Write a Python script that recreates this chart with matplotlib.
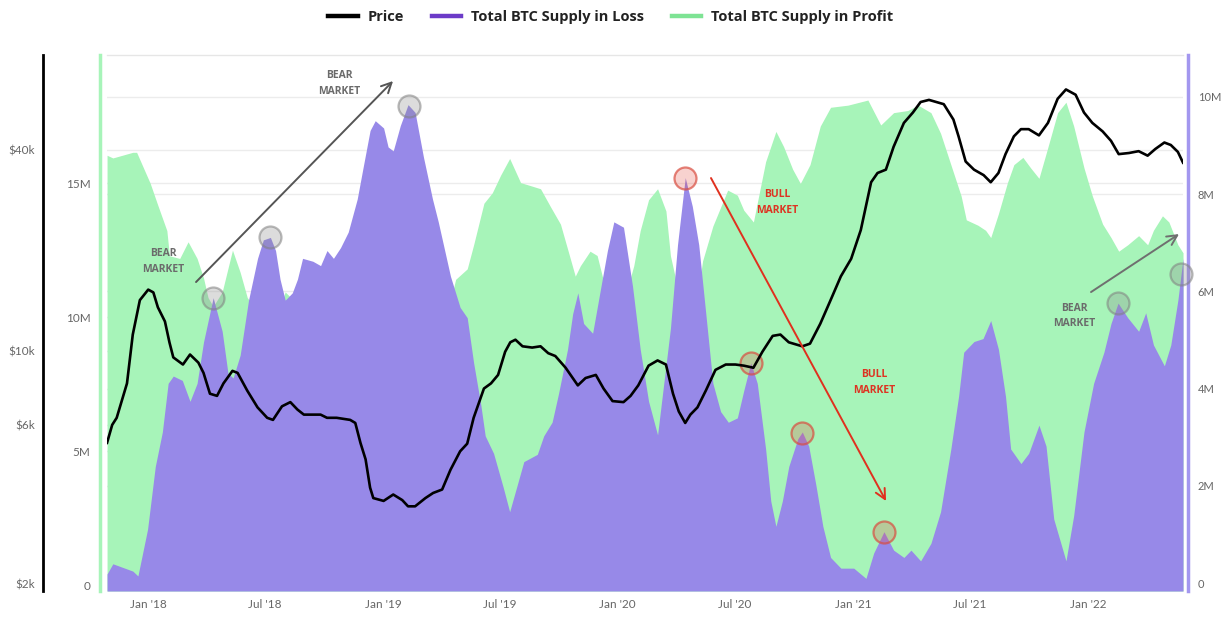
import numpy as np
import pandas as pd
import matplotlib
matplotlib.use("Agg")
import matplotlib.pyplot as plt
import matplotlib.dates as mdates
from matplotlib.lines import Line2D
from matplotlib.ticker import FixedLocator, FixedFormatter, NullLocator
from matplotlib.transforms import blended_transform_factory

# tick labels in Lato, legend and notes in Open Sans
plt.rcParams["font.family"] = ["Lato", "DejaVu Sans"]
BOLD_FONT = ["Open Sans", "DejaVu Sans"]

# --------------------------------------------------------------------------- #
# Data (BTC supply in millions of coins, price in k USD)
# --------------------------------------------------------------------------- #
loss_dates = [
    "2017-10-29", "2017-11-07", "2017-12-08", "2017-12-16", "2017-12-31", "2018-01-12", "2018-01-23", "2018-02-01",
    "2018-02-09", "2018-02-23", "2018-03-07", "2018-03-18", "2018-03-28", "2018-04-12", "2018-04-26", "2018-05-05",
    "2018-05-13", "2018-05-24", "2018-06-06", "2018-06-20", "2018-06-29", "2018-07-10", "2018-07-18", "2018-07-25",
    "2018-08-02", "2018-08-13", "2018-08-21", "2018-08-29", "2018-09-14", "2018-09-26", "2018-10-06", "2018-10-16",
    "2018-10-27", "2018-11-08", "2018-11-22", "2018-12-01", "2018-12-12", "2018-12-20", "2019-01-02", "2019-01-09",
    "2019-01-17", "2019-01-28", "2019-02-09", "2019-02-20", "2019-03-05", "2019-03-19", "2019-03-28", "2019-04-16",
    "2019-05-01", "2019-05-12", "2019-05-22", "2019-06-02", "2019-06-09", "2019-06-22", "2019-07-07", "2019-07-17",
    "2019-07-29", "2019-08-08", "2019-08-29", "2019-09-08", "2019-09-21", "2019-10-01", "2019-10-15", "2019-10-23",
    "2019-10-31", "2019-11-09", "2019-11-23", "2019-12-05", "2019-12-16", "2019-12-26", "2020-01-10", "2020-01-24",
    "2020-02-05", "2020-02-18", "2020-03-03", "2020-03-23", "2020-04-03", "2020-04-15", "2020-04-26", "2020-05-06",
    "2020-05-17", "2020-05-28", "2020-06-09", "2020-06-21", "2020-07-05", "2020-07-15", "2020-07-26", "2020-08-05",
    "2020-08-18", "2020-08-26", "2020-09-03", "2020-09-13", "2020-09-23", "2020-10-07", "2020-10-14", "2020-10-24",
    "2020-11-04", "2020-11-15", "2020-11-27", "2020-12-13", "2021-01-02", "2021-01-21", "2021-02-02", "2021-02-18",
    "2021-03-05", "2021-03-21", "2021-04-01", "2021-04-16", "2021-05-02", "2021-05-17", "2021-06-02", "2021-06-14",
    "2021-06-22", "2021-07-08", "2021-07-22", "2021-08-03", "2021-08-15", "2021-08-26", "2021-09-03", "2021-09-19",
    "2021-10-01", "2021-10-17", "2021-10-28", "2021-11-09", "2021-11-28", "2021-12-10", "2021-12-26", "2022-01-10",
    "2022-01-26", "2022-02-06", "2022-02-17", "2022-03-04", "2022-03-21", "2022-04-01", "2022-04-13", "2022-04-30",
    "2022-05-10", "2022-05-21", "2022-05-29",
]
loss_mbtc = [
    0.19, 0.40, 0.25, 0.15, 1.11, 2.40, 3.11, 4.11,
    4.26, 4.17, 3.74, 4.11, 4.96, 5.87, 5.18, 4.32,
    4.22, 4.69, 5.82, 6.68, 7.06, 7.11, 6.84, 6.25,
    5.82, 5.97, 6.25, 6.68, 6.62, 6.53, 6.84, 6.68,
    6.90, 7.22, 7.90, 8.54, 9.31, 9.51, 9.36, 8.97,
    8.89, 9.41, 9.84, 9.68, 8.76, 7.90, 7.43, 6.31,
    5.67, 5.46, 4.53, 3.68, 3.03, 2.67, 1.97, 1.47,
    2.03, 2.50, 2.65, 3.03, 3.31, 3.90, 4.81, 5.54,
    5.97, 5.34, 5.14, 6.03, 6.84, 7.43, 7.32, 6.11,
    4.81, 3.74, 3.05, 5.24, 6.96, 8.34, 7.75, 6.96,
    5.54, 4.11, 3.53, 3.31, 3.40, 3.96, 4.53, 4.11,
    2.76, 1.69, 1.17, 1.69, 2.40, 2.97, 3.11, 2.82,
    2.03, 1.17, 0.53, 0.31, 0.31, 0.10, 0.62, 1.06,
    0.68, 0.53, 0.68, 0.46, 0.82, 1.47, 2.76, 3.84,
    4.75, 4.97, 5.03, 5.40, 4.81, 3.84, 2.76, 2.46,
    2.67, 3.25, 2.82, 1.32, 0.46, 1.39, 3.11, 4.11,
    4.75, 5.34, 5.76, 5.46, 5.18, 5.56, 4.90, 4.47,
    4.90, 5.82, 6.68,
]

profit_dates = [
    "2017-10-29", "2017-11-07", "2017-12-08", "2017-12-14", "2018-01-04", "2018-01-16", "2018-01-30", "2018-02-03",
    "2018-02-19", "2018-03-04", "2018-03-18", "2018-03-28", "2018-04-04", "2018-04-12", "2018-04-26", "2018-05-12",
    "2018-05-24", "2018-06-04", "2018-06-20", "2018-07-10", "2018-07-25", "2018-08-02", "2018-08-15", "2018-08-26",
    "2018-10-11", "2018-12-12", "2019-02-13", "2019-04-01", "2019-04-16", "2019-04-24", "2019-05-12", "2019-05-22",
    "2019-06-07", "2019-06-20", "2019-07-03", "2019-07-17", "2019-08-03", "2019-08-18", "2019-09-03", "2019-09-18",
    "2019-10-04", "2019-10-16", "2019-10-27", "2019-11-04", "2019-11-19", "2019-11-30", "2019-12-08", "2019-12-26",
    "2020-01-13", "2020-01-26", "2020-02-05", "2020-02-18", "2020-03-03", "2020-03-16", "2020-03-23", "2020-04-03",
    "2020-04-15", "2020-04-26", "2020-05-06", "2020-05-12", "2020-05-28", "2020-06-20", "2020-07-05", "2020-07-15",
    "2020-07-30", "2020-08-18", "2020-09-03", "2020-09-15", "2020-09-29", "2020-10-11", "2020-10-26", "2020-11-11",
    "2020-11-27", "2020-12-24", "2021-01-24", "2021-02-13", "2021-03-05", "2021-03-27", "2021-04-12", "2021-05-02",
    "2021-05-17", "2021-06-02", "2021-06-18", "2021-06-26", "2021-07-14", "2021-07-26", "2021-08-03", "2021-08-15",
    "2021-08-29", "2021-09-08", "2021-09-22", "2021-10-04", "2021-10-17", "2021-10-31", "2021-11-15", "2021-11-28",
    "2021-12-10", "2021-12-26", "2022-01-08", "2022-01-24", "2022-02-06", "2022-02-18", "2022-03-04", "2022-03-21",
    "2022-04-04", "2022-04-13", "2022-04-27", "2022-05-07", "2022-05-21", "2022-05-29",
]
profit_mbtc = [
    16.04, 15.94, 16.15, 16.15, 15.00, 14.17, 13.23, 12.29,
    12.19, 12.81, 12.19, 11.46, 10.73, 10.40, 10.94, 12.50,
    11.67, 10.73, 10.20, 10.00, 10.40, 10.94, 10.63, 10.30,
    9.80, 8.50, 7.60, 9.00, 10.60, 11.41, 11.80, 12.70,
    14.25, 14.64, 15.30, 15.92, 15.02, 14.91, 14.79, 14.14,
    13.47, 12.46, 11.53, 11.92, 12.46, 12.30, 11.53, 10.60,
    10.80, 11.92, 13.23, 14.38, 14.79, 13.96, 12.29, 11.10,
    10.40, 10.40, 11.10, 12.10, 13.40, 14.74, 14.55, 13.99,
    13.55, 15.80, 16.93, 16.36, 15.52, 14.99, 15.69, 17.13,
    17.83, 17.91, 18.10, 17.17, 17.63, 17.71, 17.91, 17.63,
    16.86, 15.69, 14.52, 13.63, 13.43, 13.24, 12.97, 13.86,
    15.02, 15.69, 15.96, 15.57, 15.18, 16.35, 17.63, 18.02,
    17.13, 15.57, 14.52, 13.47, 12.97, 12.46, 12.70, 13.04,
    12.70, 13.24, 13.78, 13.55, 12.70, 12.40,
]

price_dates = [
    "2017-10-29", "2017-11-06", "2017-11-13", "2017-11-29", "2017-12-08", "2017-12-19", "2018-01-01", "2018-01-09",
    "2018-01-16", "2018-01-27", "2018-02-03", "2018-02-09", "2018-02-24", "2018-03-07", "2018-03-20", "2018-03-28",
    "2018-04-07", "2018-04-18", "2018-04-28", "2018-05-12", "2018-05-20", "2018-06-04", "2018-06-20", "2018-07-05",
    "2018-07-14", "2018-07-28", "2018-08-10", "2018-08-21", "2018-08-31", "2018-09-26", "2018-10-06", "2018-10-21",
    "2018-11-11", "2018-11-19", "2018-11-27", "2018-12-05", "2018-12-12", "2018-12-17", "2019-01-02", "2019-01-17",
    "2019-01-31", "2019-02-09", "2019-02-20", "2019-03-08", "2019-03-20", "2019-04-03", "2019-04-16", "2019-05-01",
    "2019-05-12", "2019-05-22", "2019-06-07", "2019-06-18", "2019-06-29", "2019-07-10", "2019-07-18", "2019-07-26",
    "2019-08-06", "2019-08-21", "2019-09-03", "2019-09-15", "2019-09-26", "2019-10-12", "2019-10-31", "2019-11-12",
    "2019-11-28", "2019-12-10", "2019-12-24", "2020-01-10", "2020-01-21", "2020-02-02", "2020-02-18", "2020-03-03",
    "2020-03-16", "2020-03-27", "2020-04-05", "2020-04-15", "2020-04-23", "2020-05-04", "2020-05-17", "2020-06-01",
    "2020-06-17", "2020-07-02", "2020-07-15", "2020-07-30", "2020-08-13", "2020-08-29", "2020-09-10", "2020-09-23",
    "2020-10-14", "2020-10-26", "2020-11-11", "2020-11-27", "2020-12-13", "2020-12-29", "2021-01-13", "2021-01-29",
    "2021-02-08", "2021-02-21", "2021-03-05", "2021-03-21", "2021-04-04", "2021-04-16", "2021-04-29", "2021-05-22",
    "2021-06-06", "2021-06-14", "2021-06-25", "2021-07-08", "2021-07-23", "2021-08-03", "2021-08-15", "2021-08-26",
    "2021-09-08", "2021-09-19", "2021-10-01", "2021-10-17", "2021-10-31", "2021-11-15", "2021-11-28", "2021-12-13",
    "2021-12-26", "2022-01-08", "2022-01-24", "2022-02-06", "2022-02-18", "2022-03-06", "2022-03-21", "2022-04-04",
    "2022-04-16", "2022-04-30", "2022-05-10", "2022-05-21", "2022-05-29",
]
price_kusd = [
    5.30, 6.00, 6.30, 7.99, 11.19, 14.19, 15.26, 14.97,
    13.51, 12.25, 10.61, 9.56, 9.10, 9.75, 9.22, 8.59,
    7.44, 7.33, 7.99, 8.71, 8.59, 7.60, 6.77, 6.30,
    6.21, 6.82, 7.02, 6.67, 6.44, 6.44, 6.30, 6.30,
    6.21, 6.08, 5.30, 4.73, 3.89, 3.62, 3.55, 3.71,
    3.57, 3.42, 3.42, 3.62, 3.75, 3.84, 4.40, 5.00,
    5.27, 6.30, 7.71, 7.99, 8.47, 9.94, 10.61, 10.80,
    10.32, 10.23, 10.32, 9.84, 9.65, 8.90, 7.88, 8.29,
    8.47, 7.71, 7.07, 7.02, 7.33, 7.88, 9.03, 9.36,
    9.10, 7.44, 6.58, 6.08, 6.44, 6.77, 7.60, 8.77,
    9.10, 9.10, 9.03, 8.90, 9.94, 11.09, 11.19, 10.61,
    10.32, 10.51, 12.06, 14.19, 16.73, 18.88, 23.03, 32.02,
    34.13, 34.93, 40.90, 48.23, 51.81, 55.71, 56.53, 54.88,
    49.35, 43.95, 36.95, 34.93, 33.63, 32.02, 34.13, 38.88,
    43.95, 46.19, 46.19, 44.25, 48.23, 56.94, 60.75, 58.58,
    51.81, 48.23, 45.48, 42.62, 38.88, 39.18, 39.68, 38.47,
    40.29, 42.12, 41.41, 39.48, 36.65,
]

# peaks of supply-in-loss that the annotator circled
gray_circle_dates = ["2018-04-12", "2018-07-10", "2019-02-11", "2022-02-17", "2022-05-26"]
red_circle_dates = ["2020-04-15", "2020-07-26", "2020-10-13", "2021-02-18"]

price_ticks = [2, 6, 10, 40]
profit_ticks = [0, 5, 10, 15]
loss_ticks = [0, 2, 4, 6, 8, 10]

# --------------------------------------------------------------------------- #
GREEN_FILL = "#a7f4b9"
PURPLE_FILL = "#9789e8"
GREEN_LEG = "#7ee394"
PURPLE_LEG = "#6c3bc8"
PURPLE_SPINE = "#a397ef"
GRID = "#ececec"
TICK = "#666666"
BEAR = "#6b6b6b"
BULL = "#dd3322"


def main():
    ld = pd.to_datetime(loss_dates)
    pd_ = pd.to_datetime(profit_dates)
    prd = pd.to_datetime(price_dates)

    fig = plt.figure(figsize=(12.22, 6.17), dpi=100)
    ax_p = fig.add_axes([0.0876, 0.0421, 0.8805, 0.8687])   # profit (left, green)
    ax_l = ax_p.twinx()                                       # loss (right, purple)
    ax_c = ax_p.twinx()                                       # price (far left, log)

    ax_p.set_xlim(ld[0], ld[-1])
    ax_p.set_ylim(-0.22, 19.78)
    ax_l.set_ylim(-0.16, 10.86)
    ax_c.set_yscale("log")
    ax_c.set_ylim(1.906, 77.04)

    # faint horizontal grid, behind the fills
    for v in profit_ticks[1:]:
        ax_p.axhline(v, color=GRID, lw=1, zorder=0)
    tr_l = blended_transform_factory(ax_p.transAxes, ax_l.transData)
    for v in loss_ticks[1:]:
        ax_p.plot([0, 1], [v, v], transform=tr_l, color=GRID, lw=1, zorder=0)
    tr_c = blended_transform_factory(ax_p.transAxes, ax_c.transData)
    for v in price_ticks[1:]:
        ax_p.plot([0, 1], [v, v], transform=tr_c, color=GRID, lw=1, zorder=0)

    # series
    ax_p.fill_between(pd_, profit_mbtc, -0.22, color=GREEN_FILL, lw=0, zorder=2)
    ax_l.fill_between(ld, loss_mbtc, -0.16, color=PURPLE_FILL, lw=0, zorder=2)
    ax_c.plot(prd, price_kusd, color="black", lw=1.9, solid_joinstyle="round", zorder=3)

    # circled peaks on the loss series
    lx = mdates.date2num(ld)
    for dates, face, edge in [(gray_circle_dates, (0.55, 0.55, 0.55, 0.3), (0.5, 0.5, 0.5, 0.55)),
                              (red_circle_dates, (0.9, 0.3, 0.25, 0.25), (0.85, 0.3, 0.25, 0.7))]:
        cx = pd.to_datetime(dates)
        cy = np.interp(mdates.date2num(cx), lx, loss_mbtc)
        ax_l.scatter(cx, cy, s=250, facecolor=face, edgecolor=edge, lw=1.6, zorder=5, clip_on=False)

    # spines (offsets in points: 1 px = 0.72 pt at 100 dpi)
    for ax in (ax_p, ax_l, ax_c):
        for s in ax.spines.values():
            s.set_visible(False)
    ax_p.spines["top"].set_visible(True)
    ax_p.spines["top"].set_color("#e6e6e6")
    ax_p.spines["top"].set_linewidth(1)
    ax_p.spines["left"].set_visible(True)
    ax_p.spines["left"].set_color(GREEN_FILL)
    ax_p.spines["left"].set_linewidth(2.5)
    ax_p.spines["left"].set_position(("outward", 5))
    ax_l.spines["right"].set_visible(True)
    ax_l.spines["right"].set_color(PURPLE_SPINE)
    ax_l.spines["right"].set_linewidth(2.5)
    ax_l.spines["right"].set_position(("outward", 3.6))
    ax_c.yaxis.tick_left()
    ax_c.yaxis.set_label_position("left")
    ax_c.spines["left"].set_visible(True)
    ax_c.spines["left"].set_color("black")
    ax_c.spines["left"].set_linewidth(2)
    ax_c.spines["left"].set_position(("outward", 46))

    # ticks
    ax_p.yaxis.set_major_locator(FixedLocator(profit_ticks))
    ax_p.yaxis.set_major_formatter(FixedFormatter(["0" if t == 0 else f"{t}M" for t in profit_ticks]))
    ax_l.yaxis.set_major_locator(FixedLocator(loss_ticks))
    ax_l.yaxis.set_major_formatter(FixedFormatter(["0" if t == 0 else f"{t}M" for t in loss_ticks]))
    ax_c.yaxis.set_major_locator(FixedLocator(price_ticks))
    ax_c.yaxis.set_major_formatter(FixedFormatter([f"${t}k" for t in price_ticks]))
    ax_c.yaxis.set_minor_locator(NullLocator())

    ax_p.tick_params(axis="y", length=0, pad=7, labelsize=8.5, labelcolor=TICK)
    ax_l.tick_params(axis="y", length=0, pad=7, labelsize=8, labelcolor=TICK)
    ax_c.tick_params(axis="y", length=0, pad=6, labelsize=8.5, labelcolor=TICK)

    ax_p.xaxis.set_major_locator(mdates.MonthLocator(bymonth=[1, 7]))
    ax_p.xaxis.set_major_formatter(mdates.DateFormatter("%b '%y"))
    ax_p.tick_params(axis="x", length=0, pad=6, labelsize=8.5, labelcolor=TICK)

    # annotations (axes fraction of the plotting area)
    ta = ax_c.transAxes
    txt = dict(transform=ta, ha="center", va="center", fontsize=7.5, family=BOLD_FONT,
               fontweight="bold", linespacing=1.6, zorder=10)
    ax_c.text(0.052, 0.615, "BEAR\nMARKET", color=BEAR, **txt)
    ax_c.text(0.2156, 0.947, "BEAR\nMARKET", color=BEAR, **txt)
    ax_c.text(0.8987, 0.513, "BEAR\nMARKET", color=BEAR, **txt)
    ax_c.text(0.6227, 0.725, "BULL\nMARKET", color=BULL, **txt)
    ax_c.text(0.7128, 0.389, "BULL\nMARKET", color=BULL, **txt)

    arrows = [((0.0827, 0.5765), (0.2658, 0.9515), "#555555"),
              ((0.9145, 0.5578), (0.9963, 0.6660), "#6f6f6f"),
              ((0.5613, 0.7705), (0.7240, 0.1679), "#e0301e")]
    for start, tip, col in arrows:
        ax_c.annotate("", xy=tip, xytext=start, xycoords="axes fraction",
                      textcoords="axes fraction", zorder=10,
                      arrowprops=dict(arrowstyle="->", color=col, lw=1.4,
                                      mutation_scale=18, shrinkA=0, shrinkB=0))

    # legend
    handles = [Line2D([], [], color="black", lw=3.2),
               Line2D([], [], color=PURPLE_LEG, lw=3.2),
               Line2D([], [], color=GREEN_LEG, lw=3.2)]
    labels = ["Price", "Total BTC Supply in Loss", "Total BTC Supply in Profit"]
    fig.legend(handles, labels, loc="upper center", bbox_to_anchor=(0.5, 1.005), ncol=3,
               frameon=False, handlelength=2.0, handletextpad=0.7, columnspacing=1.9,
               prop=dict(family=BOLD_FONT, size=10.5, weight="bold"), labelcolor="#222222")

    fig.savefig("out.png", dpi=100)


if __name__ == "__main__":
    main()
